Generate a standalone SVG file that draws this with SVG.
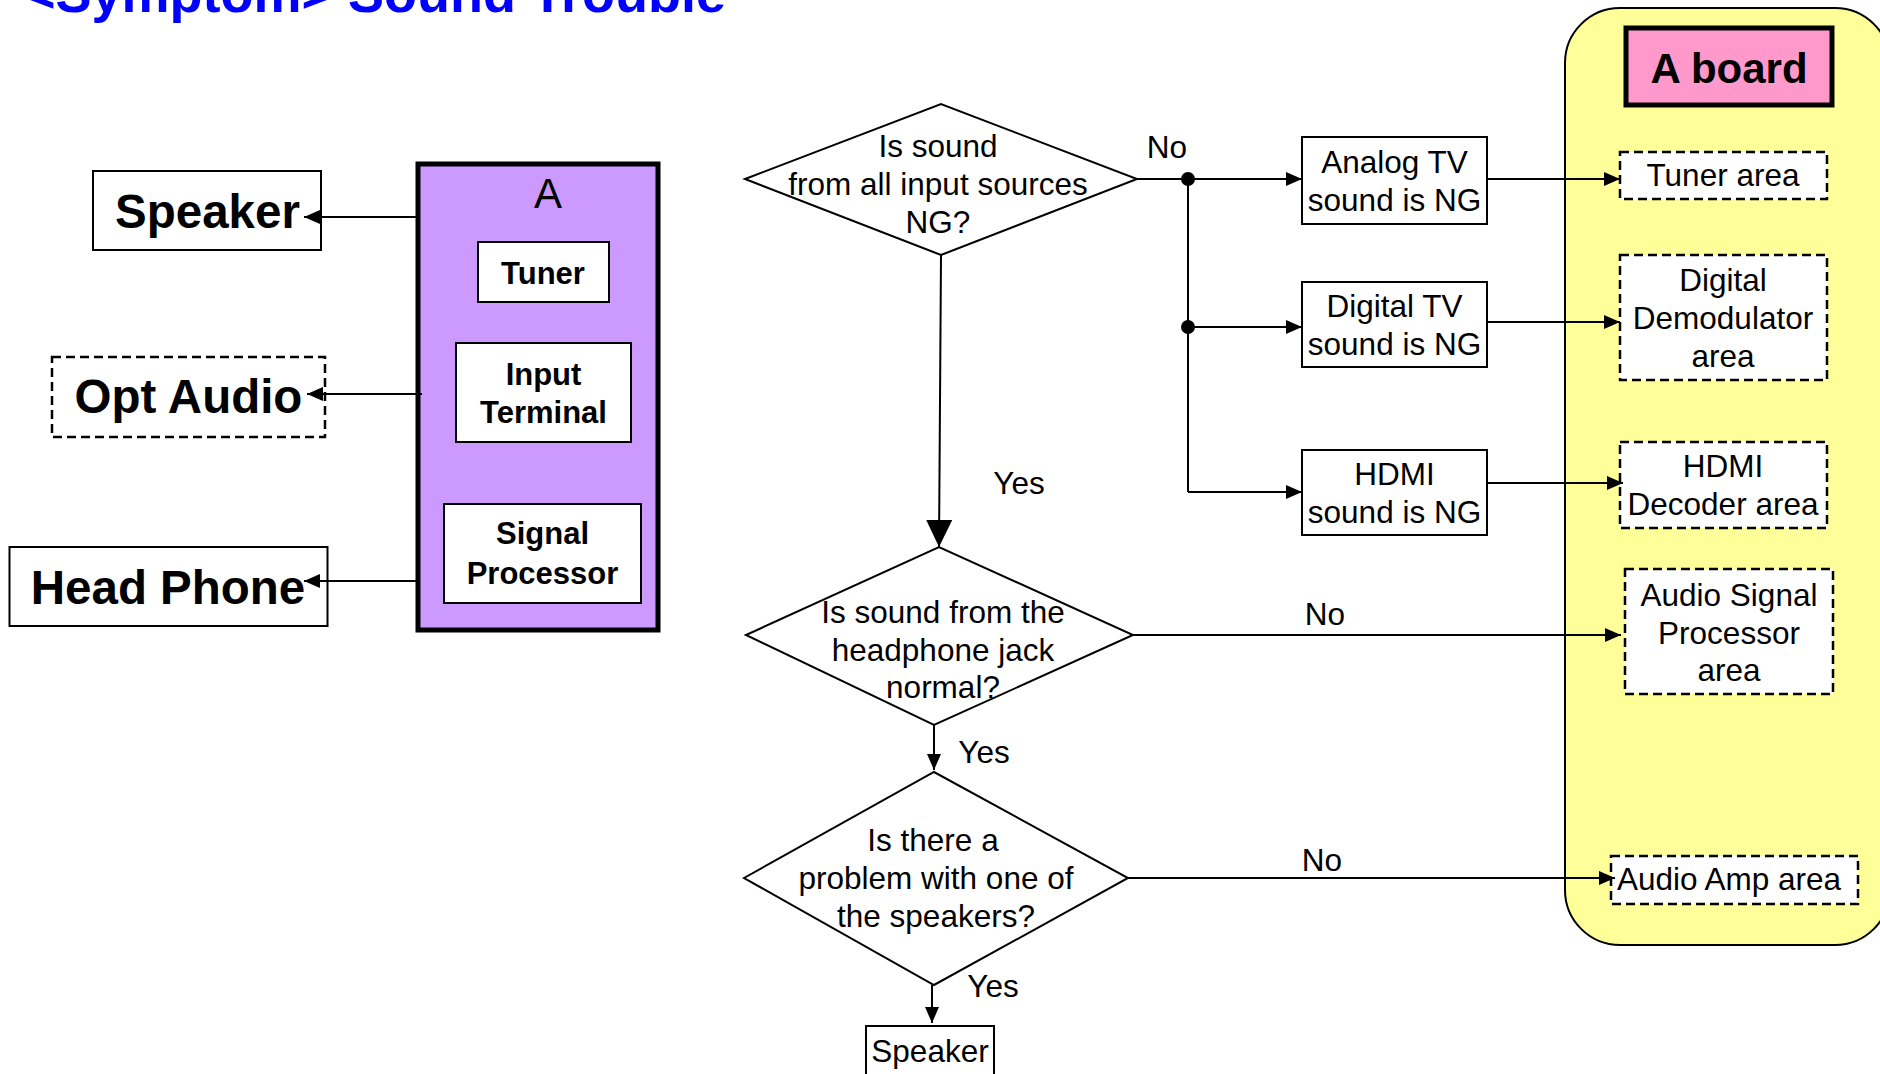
<svg xmlns="http://www.w3.org/2000/svg" width="1880" height="1074" viewBox="0 0 1880 1074">
<defs>
<style>
text{font-family:"Liberation Sans",Arial,sans-serif;fill:#000}
.t{font-size:31.5px;text-anchor:middle}
.tb{font-size:31px;font-weight:bold;text-anchor:middle}
.big{font-size:47.5px;font-weight:bold;text-anchor:middle}
.title{font-size:54px;font-weight:bold;fill:#0000FF}
.box{fill:#fff;stroke:#000;stroke-width:2}
.dash{fill:#fff;stroke:#000;stroke-width:2.5;stroke-dasharray:9 5}
.dia{fill:#fff;stroke:#000;stroke-width:2}
.ln{fill:none;stroke:#000;stroke-width:2}
.arr{marker-end:url(#ah)}
.arrL{marker-end:url(#ahL)}
</style>
<marker id="ah" markerUnits="userSpaceOnUse" markerWidth="16" markerHeight="14" refX="16" refY="7" orient="auto"><path d="M0,0 L16,7 L0,14 z" fill="#000"/></marker>
<marker id="ahL" markerUnits="userSpaceOnUse" markerWidth="27" markerHeight="26" refX="27" refY="13" orient="auto"><path d="M0,0 L27,13 L0,26 z" fill="#000"/></marker>
</defs>
<rect x="0" y="0" width="1880" height="1074" fill="#fff"/>
<text class="title" x="24" y="12">&lt;Symptom&gt; Sound Trouble</text>

<g id="a-board-panel">
<rect x="1565" y="8" width="325" height="937" rx="55" ry="55" fill="#FFFF99" stroke="#000" stroke-width="2"/>
</g>
<g id="a-board-label">
<rect x="1626" y="28" width="206" height="77" fill="#FF99CC" stroke="#000" stroke-width="5"/>
<text x="1729" y="83" style="font-size:42px;font-weight:bold;text-anchor:middle">A board</text>
</g>
<g id="tuner-area">
<rect class="dash" x="1620" y="152" width="207" height="47"/>
<text class="t" x="1723" y="186">Tuner area</text>
</g>
<g id="demod-area">
<rect class="dash" x="1620" y="255" width="207" height="125"/>
<text class="t" x="1723" y="291">Digital</text>
<text class="t" x="1723" y="329">Demodulator</text>
<text class="t" x="1723" y="367">area</text>
</g>
<g id="hdmi-decoder-area">
<rect class="dash" x="1620" y="442" width="207" height="86"/>
<text class="t" x="1723" y="477">HDMI</text>
<text class="t" x="1723" y="515">Decoder area</text>
</g>
<g id="asp-area">
<rect class="dash" x="1625" y="569" width="208" height="125"/>
<text class="t" x="1729" y="606">Audio Signal</text>
<text class="t" x="1729" y="644">Processor</text>
<text class="t" x="1729" y="681">area</text>
</g>
<g id="amp-area">
<rect class="dash" x="1611" y="856" width="247" height="48"/>
<text class="t" x="1729" y="890">Audio Amp area</text>
</g>

<g id="speaker-out">
<rect class="box" x="93" y="171" width="228" height="79"/>
<text class="big" x="207.5" y="228">Speaker</text>
</g>
<g id="opt-audio">
<rect class="dash" x="52" y="357" width="273" height="80"/>
<text class="big" x="188.5" y="413">Opt Audio</text>
</g>
<g id="head-phone">
<rect class="box" x="9.5" y="547" width="318" height="79"/>
<text class="big" x="168" y="604">Head Phone</text>
</g>
<g id="a-unit">
<rect x="418" y="164" width="240" height="466" fill="#CC99FF" stroke="#000" stroke-width="5"/>
<text x="548" y="208" style="font-size:42px;text-anchor:middle">A</text>
<rect class="box" x="478" y="242" width="131" height="60"/>
<text class="tb" x="543" y="284">Tuner</text>
<rect class="box" x="456" y="343" width="175" height="99"/>
<text class="tb" x="543.5" y="385">Input</text>
<text class="tb" x="543.5" y="423">Terminal</text>
<rect class="box" x="444" y="504" width="197" height="99"/>
<text class="tb" x="542.5" y="544">Signal</text>
<text class="tb" x="542.5" y="584">Processor</text>
</g>

<g id="q1">
<polygon class="dia" points="745,179 941,104 1137,179 941,255"/>
<text class="t" x="938" y="157">Is sound</text>
<text class="t" x="938" y="195">from all input sources</text>
<text class="t" x="938" y="233">NG?</text>
</g>
<g id="analog">
<rect class="box" x="1302" y="137" width="185" height="87"/>
<text class="t" x="1394.5" y="173">Analog TV</text>
<text class="t" x="1394.5" y="211">sound is NG</text>
</g>
<g id="digital">
<rect class="box" x="1302" y="282" width="185" height="85"/>
<text class="t" x="1394.5" y="317">Digital TV</text>
<text class="t" x="1394.5" y="355">sound is NG</text>
</g>
<g id="hdmi">
<rect class="box" x="1302" y="450" width="185" height="85"/>
<text class="t" x="1394.5" y="485">HDMI</text>
<text class="t" x="1394.5" y="523">sound is NG</text>
</g>
<g id="q2">
<polygon class="dia" points="746,635 939,547 1133,635 934,725"/>
<text class="t" x="943" y="623">Is sound from the</text>
<text class="t" x="943" y="661">headphone jack</text>
<text class="t" x="943" y="698">normal?</text>
</g>
<g id="q3">
<polygon class="dia" points="744,878 934,772 1128,878 934,985"/>
<text class="t" x="933" y="851">Is there a</text>
<text class="t" x="936" y="889">problem with one of</text>
<text class="t" x="936" y="927">the speakers?</text>
</g>
<g id="speaker-end">
<rect class="box" x="866" y="1026" width="128" height="52"/>
<text class="t" x="930" y="1062">Speaker</text>
</g>

<g id="connectors">
<line class="ln arr" x1="418" y1="217" x2="304" y2="217"/>
<line class="ln arr" x1="422" y1="394" x2="307" y2="394"/>
<line class="ln arr" x1="418" y1="581" x2="304" y2="581"/>
<line class="ln arr" x1="1137" y1="179" x2="1302" y2="179"/>
<path class="ln" d="M1188,179 V492"/>
<line class="ln arr" x1="1188" y1="327" x2="1302" y2="327"/>
<line class="ln arr" x1="1188" y1="492" x2="1302" y2="492"/>
<circle cx="1188" cy="179" r="7" fill="#000"/>
<circle cx="1188" cy="327" r="7" fill="#000"/>
<line class="ln arr" x1="1487" y1="179" x2="1620" y2="179"/>
<line class="ln arr" x1="1487" y1="322" x2="1620" y2="322"/>
<line class="ln arr" x1="1487" y1="483" x2="1623" y2="483"/>
<line class="ln arrL" x1="941" y1="255" x2="939" y2="547"/>
<line class="ln arr" x1="1133" y1="635" x2="1621" y2="635"/>
<line class="ln arr" x1="934" y1="725" x2="934" y2="770"/>
<line class="ln arr" x1="1128" y1="878" x2="1615" y2="878"/>
<line class="ln arr" x1="932" y1="985" x2="932" y2="1023"/>
<text class="t" x="1167" y="158">No</text>
<text class="t" x="1019" y="494">Yes</text>
<text class="t" x="1325" y="625">No</text>
<text class="t" x="984" y="763">Yes</text>
<text class="t" x="993" y="997">Yes</text>
<text class="t" x="1322" y="871">No</text>
</g>
</svg>
